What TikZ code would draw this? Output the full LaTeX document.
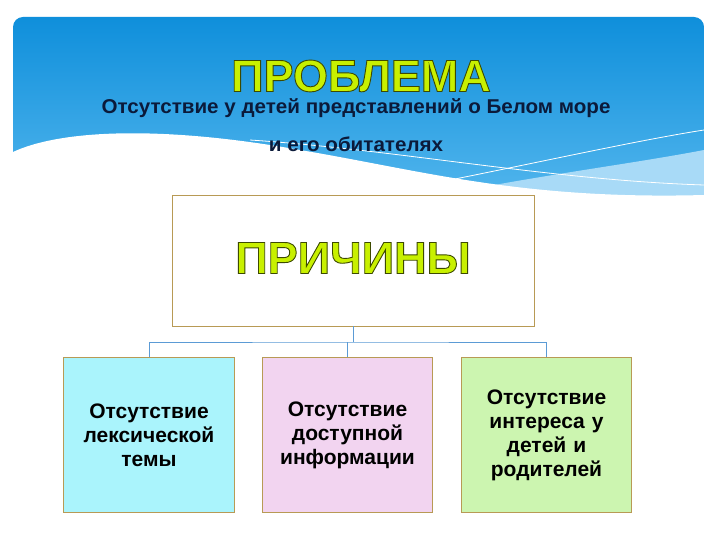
\documentclass[tikz,border=0pt]{standalone}
\usepackage{fontspec}
\setmainfont{Liberation Sans}
\newcommand{\outlinedtext}[1]{\special{pdf:literal direct 0.24 0.29 0 RG 2 Tr 0.9 w}#1\special{pdf:literal direct 0 Tr}}
\definecolor{skyA}{HTML}{0F8FDB}
\definecolor{skyB}{HTML}{5DBCF0}
\definecolor{skyL}{HTML}{A8DAF7}
\definecolor{navy}{HTML}{0B1A3A}
\definecolor{lime}{HTML}{C8F000}
\definecolor{tan}{HTML}{B89A55}
\definecolor{cyanbox}{HTML}{AAF4FC}
\definecolor{pinkbox}{HTML}{F2D4F0}
\definecolor{greenbox}{HTML}{CCF5B0}
\definecolor{conn}{HTML}{5B9BD5}
\tikzset{
  causebox/.style={draw=tan, line width=0.8pt, minimum width=166pt, minimum height=155pt, text width=164pt, align=center, font=\bfseries\fontsize{21}{24}\selectfont},
  connline/.style={draw=conn, line width=0.7pt},
  bigtitle/.style={font=\bfseries\fontsize{45}{48}\selectfont, text=lime},
  subtitle/.style={font=\bfseries\fontsize{20}{23}\selectfont, text=navy, xscale=1.03}
}
\begin{document}
\begin{tikzpicture}[x=1pt,y=-1pt]
\useasboundingbox (0,0) rectangle (720,540);
\fill[white] (0,0) rectangle (720,540);
% header band
\begin{scope}
\clip[rounded corners=10pt] (13,17) rectangle (704,260);
\shade[top color=skyA, bottom color=skyB] (13,17) rectangle (704,230);
\fill[skyL] (300,230) .. controls (450,185) and (600,170) .. (704,150) -- (704,230) -- cycle;
\fill[white] (13,152) .. controls (60,130) and (160,125) .. (300,150)
  .. controls (420,170) and (520,200) .. (704,195) -- (704,260) -- (13,260) -- cycle;
\draw[white, line width=0.8pt] (250,140) .. controls (400,150) and (550,180) .. (704,185);
\draw[white, line width=0.8pt] (450,180) .. controls (550,160) and (640,140) .. (704,130);
\end{scope}
\node[bigtitle] (title) at (361,76) {\outlinedtext{ПРОБЛЕМА}};
\node[subtitle] (sub1) at (356,108) {Отсутствие у детей представлений о Белом море};
\node[subtitle] (sub2) at (356,144) {и его обитателях};
% main box
\node[draw=tan, line width=0.8pt, fill=white, minimum width=362pt, minimum height=131pt] (main) at (353,260.5) {};
\node[bigtitle] (mainlbl) at (353,258) {\outlinedtext{ПРИЧИНЫ}};
% cause boxes
\node[causebox, fill=cyanbox] (c1) at (149,435) {Отсутствие лексической темы};
\node[causebox, fill=pinkbox] (c2) at (347.5,435) {Отсутствие доступной информации};
\node[causebox, fill=greenbox] (c3) at (546.5,435) {Отсутствие интереса~у детей и родителей};
% connectors
\coordinate (hub) at (353,342);
\draw[connline] (main.south) -- (hub);
\draw[connline] (c1.north) |- (hub) -| (c3.north);
\draw[connline] (c2.north) -- (c2.north |- hub);
\end{tikzpicture}
\end{document}
